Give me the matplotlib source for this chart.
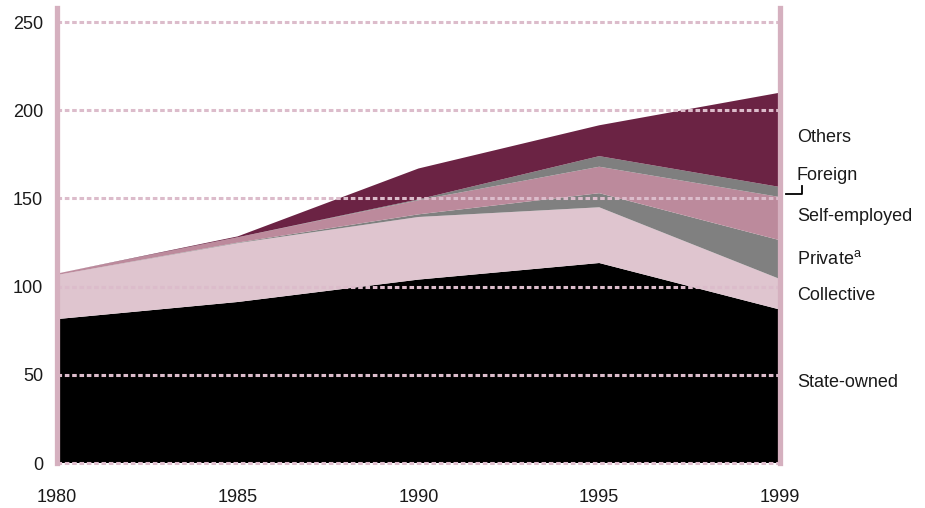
import numpy as np
import matplotlib
matplotlib.use("Agg")
import matplotlib.pyplot as plt
import matplotlib.transforms as mtransforms

# employment by ownership type
years = ["1980", "1985", "1990", "1995", "1999"]
state_owned = [81.6, 91.3, 104.0, 113.4, 87.0]
collective = [25.0, 33.4, 35.5, 31.6, 17.3]
private = [0.0, 0.3, 1.5, 8.0, 22.0]
self_employed = [0.8, 3.0, 8.0, 15.0, 24.5]
foreign = [0.0, 0.0, 0.5, 6.0, 5.7]
others = [0.0, 0.5, 17.5, 17.5, 53.5]

series_labels = ["State-owned", "Collective", "Private$^{\\mathregular{a}}$",
                 "Self-employed", "Foreign", "Others"]
y_ticks = [0, 50, 100, 150, 200, 250]

# where the labels sit on the right hand side (data units)
label_y = [45.4, 95.2, 115.6, 140.0, 163.3, 184.8]

colors = ["#000000", "#dfc5cf", "#808080", "#bc8a9c", "#7f7f7f", "#6b2344"]
spine_color = "#d5b0bf"
grid_color = "#dcbccb"
text_color = "#1a1a1a"

plt.rcParams["font.family"] = ["Liberation Sans", "DejaVu Sans"]

fig = plt.figure(figsize=(9.25, 5.08), dpi=100)
ax = fig.add_axes([57 / 925, 1 - 463 / 508, (780 - 57) / 925, 455 / 508])

x = np.arange(len(years))
ax.stackplot(x, state_owned, collective, private, self_employed, foreign, others,
             colors=colors, linewidth=0, zorder=1)

# dotted horizontal grid drawn over the areas
for t in y_ticks:
    ax.plot([0, len(years) - 1], [t, t], color=grid_color, lw=2.2,
            linestyle=(0, (1.5, 0.9)), zorder=2, clip_on=False)

ax.set_xlim(0, len(years) - 1)
ax.set_ylim(0, 258)
ax.set_xticks(x)
ax.set_xticklabels(years)
ax.set_yticks(y_ticks)
ax.tick_params(axis="both", length=0, labelsize=13, colors=text_color)
ax.tick_params(axis="x", pad=19)
ax.tick_params(axis="y", pad=10)

for side in ["top", "bottom"]:
    ax.spines[side].set_visible(False)
for side in ["left", "right"]:
    ax.spines[side].set_color(spine_color)
    ax.spines[side].set_linewidth(3.8)
    ax.spines[side].set_zorder(3)

# labels on the right
trans = mtransforms.blended_transform_factory(ax.transAxes, ax.transData)
for lab, yy in zip(series_labels, label_y):
    ax.text(1.0235, yy, lab, transform=trans, fontsize=13, color=text_color,
            va="center", ha="left")

# small bracket pointing to the thin foreign band
ax.plot([1.008, 1.030, 1.030], [152.8, 152.8, 157.0], transform=trans,
        color="black", lw=1.3, clip_on=False)

fig.savefig("out.png", dpi=100)
